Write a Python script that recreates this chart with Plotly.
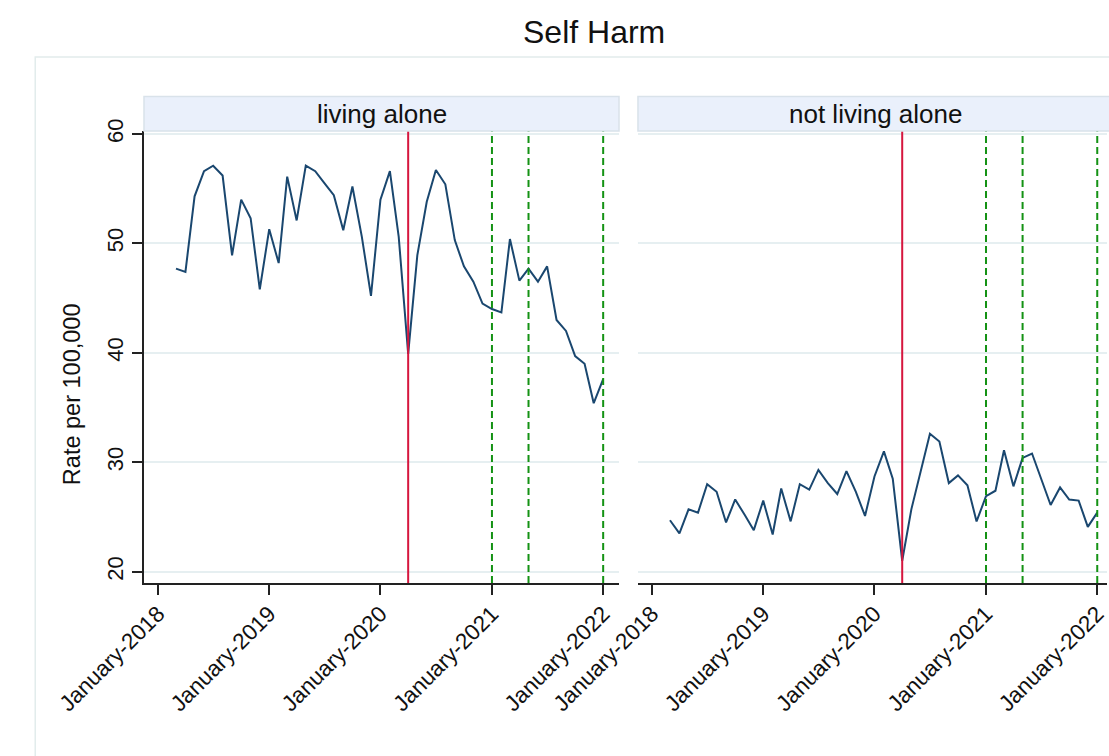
import pandas as pd
import plotly.graph_objects as go
from plotly.subplots import make_subplots

# monthly rates per 100,000, March 2018 - January 2022
months = pd.date_range("2018-03-01", periods=47, freq="MS")
living_alone = [47.7, 47.4, 54.3, 56.6, 57.1, 56.2, 48.9, 54.0, 52.3, 45.8,
                51.3, 48.2, 56.1, 52.1, 57.1, 56.6, 55.5, 54.4, 51.2, 55.2,
                50.6, 45.2, 54.0, 56.6, 50.6, 39.9, 48.9, 53.8, 56.7, 55.4,
                50.3, 47.9, 46.5, 44.5, 44.0, 43.7, 50.4, 46.6, 47.7, 46.5,
                47.9, 43.0, 42.0, 39.7, 39.0, 35.4, 37.6]
not_living_alone = [24.7, 23.5, 25.7, 25.4, 28.0, 27.3, 24.5, 26.6, 25.2, 23.8,
                    26.5, 23.4, 27.6, 24.6, 28.0, 27.5, 29.3, 28.1, 27.1, 29.2,
                    27.3, 25.1, 28.7, 31.0, 28.5, 21.0, 25.7, 29.2, 32.6, 31.9,
                    28.1, 28.8, 27.9, 24.6, 26.9, 27.4, 31.1, 27.8, 30.4, 30.8,
                    28.5, 26.1, 27.7, 26.6, 26.5, 24.1, 25.4]
panels = ["living alone", "not living alone"]

lockdown_start = ["2020-04-01"]
restriction_dates = ["2021-01-01", "2021-05-01", "2022-01-01"]

year_ticks = ["2018-01-01", "2019-01-01", "2020-01-01", "2021-01-01", "2022-01-01"]
year_labels = ["January-2018", "January-2019", "January-2020", "January-2021", "January-2022"]
y_ticks = [20, 30, 40, 50, 60]

FONT = "Liberation Sans, Arial, sans-serif"
NAVY = "#1a476f"
RED = "#d6163e"
GREEN = "#149214"
GRID = "#e6eff1"

W, H = 1109, 756
L, T, B = 144, 131, 583
PW = W - L


def px_x(p):
    return (p - L) / PW


def px_y(p):
    return (B - p) / (B - T)


fig = make_subplots(rows=1, cols=2, shared_yaxes=True, horizontal_spacing=0)
fig.update_layout(
    xaxis={"domain": [0, px_x(620)]},
    xaxis2={"domain": [px_x(639), 1]},
)

for col, vals in enumerate([living_alone, not_living_alone], start=1):
    fig.add_trace(
        go.Scatter(x=months, y=vals, mode="lines",
                   line={"color": NAVY, "width": 2}, showlegend=False),
        row=1, col=col,
    )
    xa = "x" if col == 1 else "x2"
    for d in lockdown_start:
        fig.add_shape(type="line", xref=xa, yref="y domain", x0=d, x1=d, y0=0, y1=1,
                      line={"color": RED, "width": 2})
    for d in restriction_dates:
        fig.add_shape(type="line", xref=xa, yref="y domain", x0=d, x1=d, y0=0, y1=1,
                      line={"color": GREEN, "width": 2, "dash": "7px,4px"})

x_common = dict(
    type="date", tickvals=year_ticks, ticktext=year_labels, tickangle=-45,
    showgrid=False, zeroline=False, showline=True, linecolor="#222", linewidth=1.5,
    ticks="outside", ticklen=10, tickwidth=1.5, tickcolor="#222",
    ticklabeloverflow="allow", ticklabelstandoff=-3,
    tickfont={"size": 22.5, "color": "#111", "family": FONT},
)
fig.update_xaxes(range=["2017-11-16", "2022-02-22"], row=1, col=1, **x_common)
fig.update_xaxes(range=["2017-11-16", "2022-02-02"], row=1, col=2, **x_common)

fig.update_yaxes(
    range=[18.97, 60.27], tickvals=y_ticks, tickangle=-90,
    showgrid=True, gridcolor=GRID, gridwidth=2, zeroline=False,
    showline=True, linecolor="#222", linewidth=1.5,
    ticks="outside", ticklen=10, tickwidth=1.5, tickcolor="#222",
    tickfont={"size": 22, "color": "#111", "family": FONT},
    row=1, col=1,
)
fig.update_yaxes(
    range=[18.97, 60.27], tickvals=y_ticks, showticklabels=False,
    showgrid=True, gridcolor=GRID, gridwidth=2, zeroline=False,
    showline=False, ticks="", row=1, col=2,
)

# outer graph-region frame
fig.add_shape(type="rect", xref="paper", yref="paper", layer="below",
              x0=px_x(35), x1=px_x(1140), y0=px_y(57), y1=px_y(800),
              line={"color": "#e2ecec", "width": 1.5}, fillcolor="rgba(0,0,0,0)")

# facet strips
for (x0, x1), name in zip([(144, 620), (639, 1115)], panels):
    fig.add_shape(type="rect", xref="paper", yref="paper",
                  x0=px_x(x0), x1=px_x(x1), y0=px_y(131), y1=px_y(96.5),
                  line={"color": "#d9e2ea", "width": 1.5}, fillcolor="#eaf0fb")
    fig.add_annotation(text=name, xref="paper", yref="paper",
                       x=px_x((x0 + x1) / 2), y=px_y(113.5), showarrow=False,
                       xanchor="center", yanchor="middle",
                       font={"size": 26, "color": "#111", "family": FONT})

fig.add_annotation(text="Self Harm", xref="paper", yref="paper",
                   x=px_x(595), y=px_y(32), showarrow=False,
                   xanchor="center", yanchor="middle",
                   font={"size": 32, "color": "#111", "family": FONT})
fig.add_annotation(text="Rate per 100,000", xref="paper", yref="paper",
                   x=px_x(72), y=px_y(394), showarrow=False, textangle=-90,
                   xanchor="center", yanchor="middle",
                   font={"size": 23.5, "color": "#111", "family": FONT})

fig.update_layout(
    width=W, height=H,
    margin={"l": L, "r": 0, "t": T, "b": H - B},
    paper_bgcolor="white", plot_bgcolor="white",
    font={"family": FONT},
    showlegend=False,
)

fig.write_html("out.html", config={"displayModeBar": False},
               post_script="document.body.style.margin = '0';")
